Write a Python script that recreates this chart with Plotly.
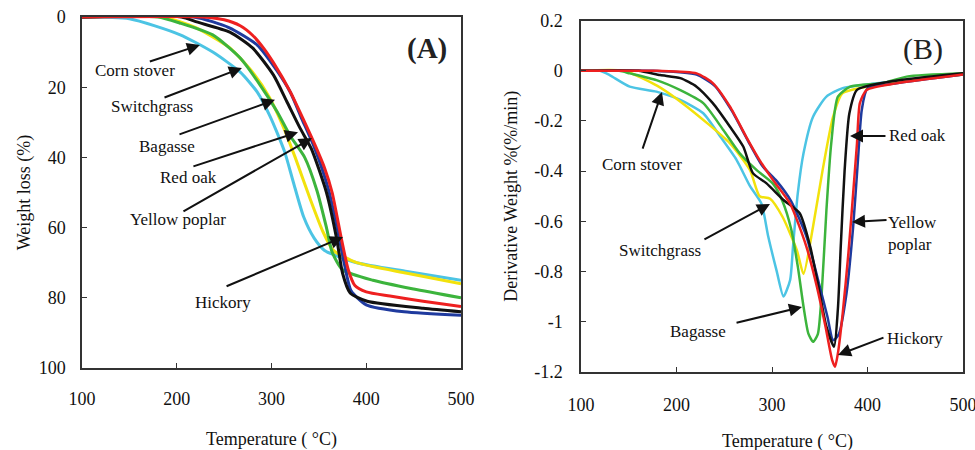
import plotly.graph_objects as go

# ---------------- data ----------------
names = ["Corn stover", "Switchgrass", "Bagasse", "Yellow poplar", "Red oak", "Hickory"]
colors = ["#4cc4e4", "#f2e20c", "#3cb43c", "#1f3a9e", "#111111", "#ee2020"]

# Panel A: weight loss (%) vs temperature (°C)
corn_T_a = [100, 150, 203, 238, 267, 285, 298, 306, 314, 323, 334, 345, 356, 390, 443, 500]
corn_W_a = [0, 0.5, 5, 10, 15.7, 21.4, 28, 33, 38.5, 47, 57, 63, 66.5, 70, 72.5, 75]
swg_T_a = [100, 185, 220, 256, 280, 298, 312, 325, 341, 354, 365, 390, 443, 500]
swg_W_a = [0, 0, 3, 8.8, 15.7, 23, 31, 40, 52, 61, 66.4, 70, 73, 76]
bag_T_a = [100, 180, 203, 238, 267, 288, 306, 320, 335, 348, 358, 364, 375, 407, 450, 500]
bag_W_a = [0, 0, 1.7, 5.1, 11.7, 19.4, 27, 34, 40, 49.5, 60, 67, 72, 75, 77.5, 80]
yp_T_a = [100, 218, 255, 285, 305, 320, 332, 345, 360, 370, 377, 384, 400, 440, 500]
yp_W_a = [0, 0, 3, 8, 15, 21.5, 29, 37, 49, 61, 70.5, 78, 82, 84, 85]
ro_T_a = [100, 205, 221, 256, 280, 302, 316, 330, 342, 358, 369, 375, 383, 401, 460, 500]
ro_W_a = [0, 0, 1.4, 4.3, 8.8, 16.5, 24, 31.6, 37.5, 50, 63.5, 73, 78.6, 81, 83, 84]
hk_T_a = [100, 228, 250, 267, 280, 292, 302, 320, 333, 346, 356, 364, 374, 381, 388, 400, 425, 460, 500]
hk_W_a = [0, 0, 0.8, 2.5, 5.2, 9, 13, 21.4, 28.8, 36.5, 43, 50, 63.5, 72, 76.5, 78.3, 79.5, 81, 82.5]

# Panel B: derivative weight (%/min) vs temperature (°C)
corn_T_b = [100, 120, 130, 151, 179, 204, 228, 246, 263, 277, 289, 296, 305, 312, 319, 322, 327, 333, 343, 357, 374, 420, 500]
corn_D_b = [0, 0, -0.017, -0.063, -0.083, -0.116, -0.169, -0.263, -0.356, -0.46, -0.53, -0.66, -0.80, -0.90, -0.834, -0.701, -0.489, -0.329, -0.183, -0.103, -0.069, -0.045, -0.015]
swg_T_b = [100, 145, 180, 211, 256, 277, 287, 298, 311, 326, 333, 343, 353, 364, 374, 420, 500]
swg_D_b = [0, 0, -0.06, -0.143, -0.289, -0.396, -0.5, -0.51, -0.582, -0.715, -0.81, -0.621, -0.396, -0.183, -0.089, -0.05, -0.015]
bag_T_b = [100, 140, 151, 179, 204, 228, 249, 266, 284, 301, 311, 320, 327, 333, 338, 343, 348, 352, 357, 362, 369, 382, 416, 441, 500]
bag_D_b = [0, 0, -0.01, -0.037, -0.077, -0.129, -0.236, -0.328, -0.396, -0.45, -0.52, -0.63, -0.78, -0.94, -1.047, -1.081, -1.05, -0.89, -0.555, -0.29, -0.103, -0.063, -0.049, -0.023, -0.01]
yp_T_b = [100, 175, 221, 240, 258, 275, 290, 305, 320, 336, 350, 358, 364, 370, 378, 385, 390, 394, 400, 430, 500]
yp_D_b = [0, 0, -0.015, -0.06, -0.16, -0.28, -0.38, -0.44, -0.52, -0.66, -0.86, -0.98, -1.075, -1.05, -0.888, -0.621, -0.356, -0.156, -0.07, -0.05, -0.015]
ro_T_b = [100, 160, 183, 204, 221, 238, 256, 270, 280, 294, 312, 329, 340, 350, 357, 365, 369, 372, 376, 381, 389, 420, 500]
ro_D_b = [0, 0, -0.017, -0.029, -0.063, -0.129, -0.223, -0.303, -0.408, -0.448, -0.515, -0.568, -0.701, -0.888, -1.02, -1.10, -0.95, -0.70, -0.40, -0.17, -0.076, -0.045, -0.01]
hk_T_b = [100, 180, 221, 238, 256, 273, 287, 300, 319, 336, 347, 356, 363, 366, 369, 374, 380, 385, 389, 392, 399, 430, 500]
hk_D_b = [0, 0, -0.01, -0.049, -0.143, -0.263, -0.356, -0.43, -0.53, -0.701, -0.861, -1.02, -1.154, -1.18, -1.127, -0.968, -0.728, -0.488, -0.289, -0.129, -0.076, -0.05, -0.015]

series_a = [(corn_T_a, corn_W_a), (swg_T_a, swg_W_a), (bag_T_a, bag_W_a),
            (yp_T_a, yp_W_a), (ro_T_a, ro_W_a), (hk_T_a, hk_W_a)]
series_b = [(corn_T_b, corn_D_b), (swg_T_b, swg_D_b), (bag_T_b, bag_D_b),
            (yp_T_b, yp_D_b), (ro_T_b, ro_D_b), (hk_T_b, hk_D_b)]

x_ticks = [100, 200, 300, 400, 500]
ya_ticks = [0, 20, 40, 60, 80, 100]
yb_ticks = [0.2, 0, -0.2, -0.4, -0.6, -0.8, -1, -1.2]
yb_ticktext = ["0.2", "0", "-0.2", "-0.4", "-0.6", "-0.8", "-1", "-1.2"]

# labels: text, text position, arrow tail, arrow head (data units)
labels_a = [
    ("Corn stover", (156, 15.1), (170, 12.8), (224.5, 8.0)),
    ("Switchgrass", (174, 25.6), (185.5, 23.1), (268.8, 14.5)),
    ("Bagasse", (190, 36.8), (201.3, 33.6), (303.7, 23.6)),
    ("Red oak", (212, 45.6), (216, 42.7), (328, 32.8)),
    ("Yellow poplar", (201, 57.8), (205.5, 55.6), (342.7, 34.5)),
    ("Hickory", (249, 81.2), (251, 76.9), (375.5, 62.7)),
]
labels_b = [
    ("Corn stover", (164, -0.372), (164, -0.316), (184.8, -0.084)),
    ("Switchgrass", (183, -0.715), (227.7, -0.675), (297.9, -0.531)),
    ("Bagasse", (222.5, -1.038), (261.3, -1.006), (331.4, -0.942)),
    ("Red oak", (452, -0.256), (420.4, -0.260), (381.7, -0.260)),
    ("Yellow<br>poplar", (447, -0.647), (421.5, -0.595), (383.8, -0.603)),
    ("Hickory", (450, -1.066), (418.3, -1.062), (369.1, -1.133)),
]

FONT = "Liberation Serif, Times New Roman, serif"

fig = go.Figure()
for (t, w), c, n in zip(series_a, colors, names):
    fig.add_trace(go.Scatter(x=t, y=w, mode="lines", name=n, xaxis="x", yaxis="y",
                             line=dict(color=c, width=3, shape="spline", smoothing=0.6),
                             showlegend=False))
for (t, d), c, n in zip(series_b, colors, names):
    fig.add_trace(go.Scatter(x=t, y=d, mode="lines", name=n, xaxis="x2", yaxis="y2",
                             line=dict(color=c, width=2.5, shape="spline", smoothing=0.6),
                             showlegend=False))

annotations = []
for lab, txt, tail, head in labels_a:
    annotations.append(dict(x=txt[0], y=txt[1], xref="x", yref="y", text=lab,
                            showarrow=False, font=dict(size=17, family=FONT, color="#111")))
    annotations.append(dict(x=head[0], y=head[1], ax=tail[0], ay=tail[1], xref="x", yref="y",
                            axref="x", ayref="y", text="", showarrow=True, arrowhead=2,
                            arrowsize=1.3, arrowwidth=2, arrowcolor="#111"))
for lab, txt, tail, head in labels_b:
    annotations.append(dict(x=txt[0], y=txt[1], xref="x2", yref="y2", text=lab, align="left",
                            showarrow=False, font=dict(size=17, family=FONT, color="#111")))
    annotations.append(dict(x=head[0], y=head[1], ax=tail[0], ay=tail[1], xref="x2", yref="y2",
                            axref="x2", ayref="y2", text="", showarrow=True, arrowhead=2,
                            arrowsize=1.3, arrowwidth=2, arrowcolor="#111"))
annotations.append(dict(x=449 / 975, y=1 - 30 / 450, xref="paper", yref="paper", text="<b>(A)</b>",
                        showarrow=False, xanchor="right", yanchor="top",
                        font=dict(size=29, family=FONT, color="#222")))
annotations.append(dict(x=945 / 975, y=1 - 30 / 450, xref="paper", yref="paper", text="(B)",
                        showarrow=False, xanchor="right", yanchor="top",
                        font=dict(size=30, family=FONT, color="#222")))
# x-axis title of panel B (sits slightly right of the axis centre in the original)
annotations.append(dict(x=787 / 975, y=1 - 441 / 450, xref="paper", yref="paper",
                        text="Temperature ( °C)", showarrow=False,
                        xanchor="center", yanchor="middle",
                        font=dict(size=18, family=FONT, color="#111")))

axis_common = dict(showline=True, mirror=True, linecolor="#333", linewidth=1.5,
                   ticks="inside", ticklen=5, tickwidth=1.2, tickcolor="#333",
                   showgrid=False, zeroline=False, automargin=False,
                   ticklabeloverflow="allow",
                   tickfont=dict(size=18, family=FONT, color="#111"))

fig.update_layout(
    width=975, height=450,
    margin=dict(l=0, r=0, t=0, b=0),
    paper_bgcolor="white", plot_bgcolor="white",
    font=dict(family=FONT, color="#111"),
    annotations=annotations,
    xaxis=dict(domain=[82 / 975, 461 / 975], range=[100, 500], tickvals=x_ticks,
               anchor="y", ticklabelstandoff=14,
               title=dict(text="Temperature ( °C)", font=dict(size=18, family=FONT), standoff=28),
               **axis_common),
    yaxis=dict(domain=[1 - 368 / 450, 1 - 17 / 450], range=[100, 0], tickvals=ya_ticks,
               anchor="x", ticklabelstandoff=11,
               title=dict(text="Weight loss (%)", font=dict(size=18, family=FONT), standoff=3),
               **axis_common),
    xaxis2=dict(domain=[581 / 975, 963 / 975], range=[100, 500], tickvals=x_ticks,
                anchor="y2", ticklabelstandoff=16,
                **axis_common),
    yaxis2=dict(domain=[1 - 371.7 / 450, 1 - 20.7 / 450], range=[-1.2, 0.2],
                tickvals=yb_ticks, ticktext=yb_ticktext,
                anchor="x2", ticklabelstandoff=13,
                title=dict(text="Derivative Weight %(%/min)", font=dict(size=18, family=FONT), standoff=12),
                **axis_common),
)

# remove the default page margin so the 975x450 figure fills the window exactly
fig.write_html("out.html", config={"displayModeBar": False},
               post_script="document.body.style.margin='0';document.body.style.overflow='hidden';")
